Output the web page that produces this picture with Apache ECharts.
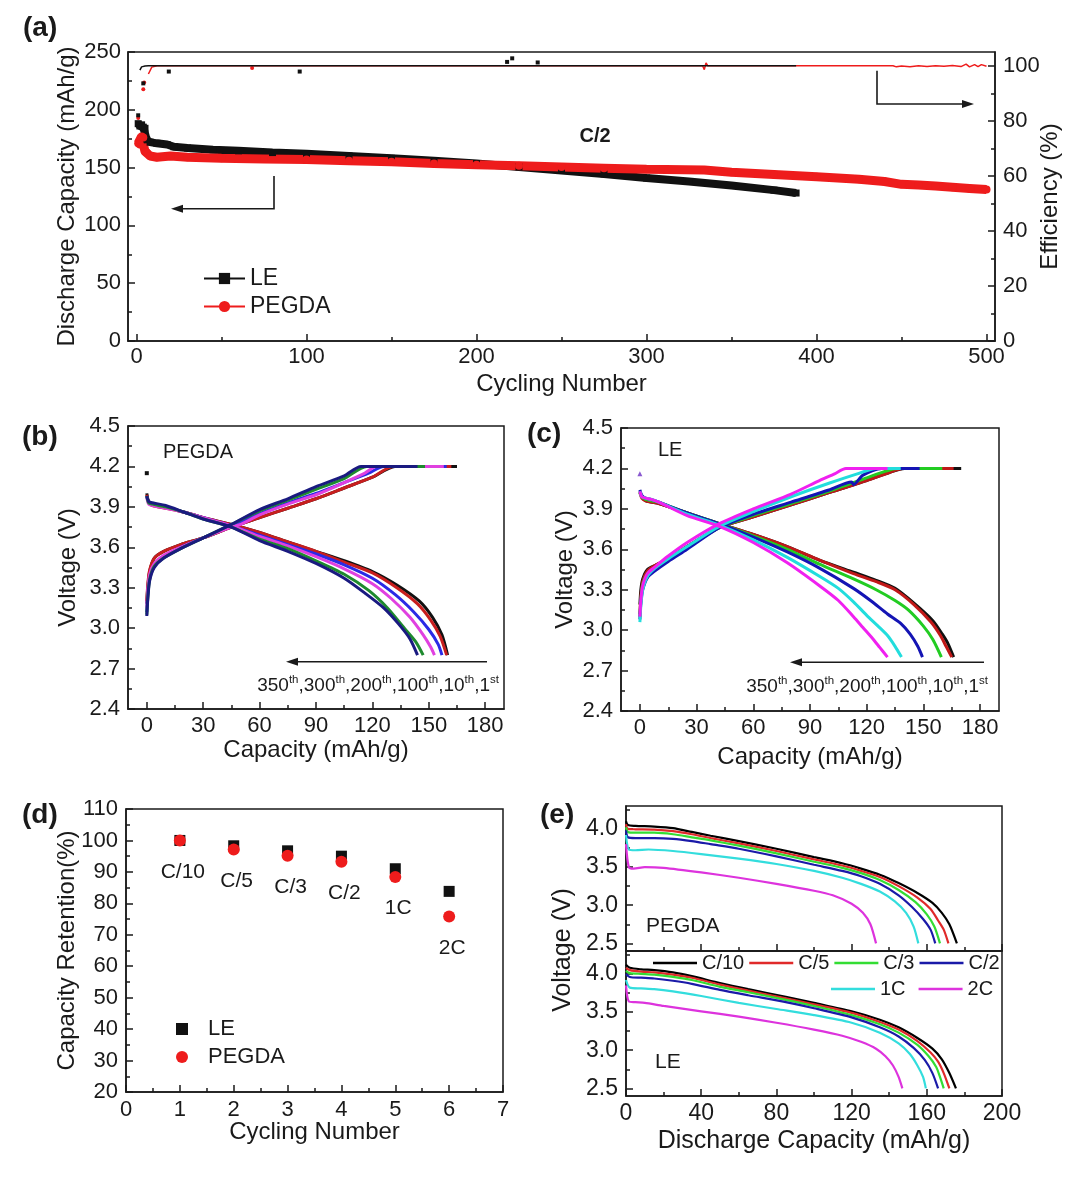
<!DOCTYPE html>
<html><head><meta charset="utf-8">
<script src="https://cdn.jsdelivr.net/npm/echarts@6/dist/echarts.min.js"></script>
<style>html,body{margin:0;padding:0;background:#fff}#c{width:1080px;height:1188px}</style>
</head><body><div id="c"></div>
<script>
// ================= DATA =================
// ---- Panel (a): cycling at C/2 ----
const aCapLE = [[1,188],[2,186],[3,187],[4,185],[5,184],[6,174],[8,172],[12,171],[18,170],[22,168],[30,167],[45,165.5],[60,164.5],[80,163],[100,162],[125,160],[150,158],[175,156],[200,153.5],[225,150.5],[250,147.5],[275,144.5],[300,141],[325,138],[350,134.5],[375,130.5],[388,128]];
const aCapPEGDA = [[1,171],[2,170],[3,177],[4,176],[5,164],[6,163],[8,160],[12,159],[20,160],[30,159],[50,158],[75,157.5],[100,157],[125,156],[150,155],[175,153.5],[200,152.5],[225,151.5],[250,150.5],[275,149.5],[300,148.5],[334,148],[350,146],[375,144],[400,142],[425,140],[440,138],[450,135.5],[460,135],[470,134],[480,133],[490,132],[495,131.5],[500,131]];
const aEffLE = [[2,98.4],[3,99.6],[5,99.9],[7,100],[30,100],[60,100],[90,100],[130,100],[170,100],[210,100],[250,100],[290,100],[330,100],[370,100],[388,100]];
const aEffLEOut = [[1,82],[4,93.6],[19,97.9],[96,97.9],[218,101.4],[221,102.7],[236,101.2]];
const aEffPEGDA = [[7,97],[9,99.5],[12,100],[100,100],[200,100],[300,100],[333,100],[334,98.6],[335,101],[336,100],[400,100],[445,100],[447,99.6],[450,99.9],[455,99.6],[460,100],[465,99.7],[470,100],[475,99.8],[480,100.1],[485,99.7],[488,100.6],[490,99.6],[493,100.4],[495,99.7],[497,100.4],[500,99.8]];
const aEffPEGDAOut = [[1,81],[4,91.5],[4.5,93.9],[68,99.2]];
const aXTicks = [0,100,200,300,400,500], aXMinor = [50,150,250,350,450];
const aYTicks = [0,50,100,150,200,250], aYMinor = [25,75,125,175,225];
const aY2Ticks = [0,20,40,60,80,100], aY2Minor = [10,30,50,70,90];

// ---- Panel (b): PEGDA charge/discharge ----
const bCycles = ['1st','10th','100th','200th','300th','350th'];
const bCharge1st   = [[0,3.18],[0.5,3.3],[1.5,3.42],[4,3.52],[9,3.57],[18,3.62],[30,3.67],[45,3.75],[60,3.82],[75,3.89],[90,3.96],[105,4.04],[120,4.12],[132,4.2],[165,4.2]];
const bCharge10th  = [[0,3.2],[0.5,3.32],[1.5,3.43],[4,3.52],[9,3.57],[18,3.62],[30,3.67],[45,3.75],[60,3.82],[75,3.89],[90,3.96],[105,4.04],[120,4.12],[131,4.2],[162,4.2]];
const bCharge100th = [[0,3.12],[0.5,3.25],[1.5,3.38],[4,3.47],[9,3.53],[18,3.6],[30,3.67],[45,3.76],[60,3.85],[75,3.93],[90,4.0],[105,4.08],[118,4.15],[126,4.2],[159.5,4.2]];
const bCharge200th = [[0,3.15],[0.5,3.28],[1.5,3.4],[4,3.48],[9,3.54],[18,3.6],[30,3.67],[45,3.75],[50,3.77],[60,3.84],[75,3.92],[90,3.99],[105,4.08],[116,4.15],[122,4.2],[158,4.2]];
const bCharge300th = [[0,3.1],[0.5,3.22],[1.5,3.36],[4,3.46],[9,3.52],[18,3.59],[30,3.67],[45,3.77],[60,3.87],[75,3.95],[90,4.03],[105,4.11],[117,4.2],[148,4.2]];
const bCharge350th = [[0,3.09],[0.5,3.21],[1.5,3.35],[4,3.45],[9,3.52],[18,3.59],[30,3.67],[45,3.77],[60,3.88],[75,3.96],[90,4.05],[105,4.13],[114,4.2],[144,4.2]];
const bDis1st   = [[0,4.0],[1,3.94],[3,3.92],[10,3.9],[20,3.86],[30,3.82],[45,3.77],[60,3.71],[75,3.64],[90,3.57],[105,3.5],[120,3.42],[133,3.32],[145,3.2],[152,3.08],[157,2.95],[160,2.8]];
const bDis10th  = [[0,3.99],[1,3.93],[3,3.91],[10,3.89],[20,3.86],[30,3.82],[45,3.77],[60,3.71],[75,3.64],[90,3.57],[105,3.49],[120,3.41],[133,3.3],[144,3.18],[151,3.06],[156,2.94],[159.5,2.8]];
const bDis100th = [[0,3.98],[1,3.93],[3,3.92],[10,3.9],[20,3.86],[30,3.82],[45,3.76],[60,3.69],[75,3.62],[90,3.55],[105,3.47],[120,3.37],[132,3.25],[142,3.12],[150,2.99],[155,2.88],[157,2.8]];
const bDis200th = [[0,3.97],[1,3.92],[3,3.91],[10,3.89],[20,3.86],[30,3.82],[45,3.76],[60,3.68],[75,3.61],[90,3.53],[105,3.44],[120,3.33],[130,3.22],[140,3.08],[147,2.95],[151,2.86],[153,2.8]];
const bDis300th = [[0,3.98],[1,3.93],[3,3.92],[10,3.9],[20,3.86],[30,3.81],[45,3.75],[60,3.66],[75,3.59],[90,3.5],[105,3.4],[118,3.28],[128,3.15],[137,3.0],[143,2.9],[147,2.8]];
const bDis350th = [[0,3.98],[1,3.94],[3,3.93],[10,3.91],[20,3.86],[30,3.81],[45,3.75],[60,3.65],[75,3.57],[90,3.48],[105,3.37],[116,3.26],[126,3.15],[134,3.03],[140,2.92],[144,2.8]];
const bFirstPt = [[0,4.15]];

// ---- Panel (c): LE charge/discharge ----
const cCharge1st   = [[0,3.19],[0.5,3.3],[1.5,3.38],[4,3.45],[8,3.48],[15,3.53],[25,3.62],[42,3.76],[60,3.84],[80,3.93],[100,4.02],[120,4.11],[132,4.17],[140,4.2],[170,4.2]];
const cCharge10th  = [[0,3.12],[0.5,3.25],[1.5,3.36],[4,3.44],[8,3.48],[15,3.53],[25,3.62],[42,3.76],[60,3.84],[80,3.93],[100,4.02],[120,4.11],[132,4.17],[139,4.2],[166,4.2]];
const cCharge100th = [[0,3.1],[0.5,3.22],[1.5,3.34],[4,3.42],[8,3.46],[15,3.52],[25,3.61],[42,3.76],[60,3.85],[80,3.94],[100,4.03],[120,4.13],[130,4.18],[136,4.2],[160,4.2]];
const cCharge200th = [[0,3.08],[0.5,3.2],[1.5,3.3],[4,3.39],[8,3.44],[15,3.51],[25,3.6],[42,3.76],[60,3.86],[80,3.95],[100,4.04],[112,4.1],[113,4.08],[118,4.15],[128,4.2],[148,4.2]];
const cCharge300th = [[0,3.06],[0.5,3.18],[1.5,3.3],[4,3.4],[8,3.46],[15,3.53],[25,3.62],[42,3.77],[60,3.88],[80,3.99],[100,4.09],[115,4.16],[125,4.2],[138,4.2]];
const cCharge350th = [[0,3.1],[0.5,3.22],[1.5,3.33],[4,3.42],[8,3.47],[15,3.55],[25,3.65],[42,3.79],[60,3.9],[80,4.01],[95,4.11],[103,4.16],[109,4.2],[131,4.2]];
const cDis1st   = [[0,4.03],[1,3.99],[3,3.96],[6,3.95],[10,3.94],[25,3.87],[42,3.79],[60,3.71],[78,3.62],[95,3.52],[113,3.43],[125,3.37],[135,3.31],[145,3.2],[155,3.07],[160,2.97],[163,2.9],[166,2.8]];
const cDis10th  = [[0,4.02],[1,3.98],[3,3.96],[6,3.95],[10,3.94],[25,3.87],[42,3.79],[60,3.71],[78,3.62],[95,3.52],[113,3.42],[125,3.36],[135,3.3],[145,3.19],[154,3.06],[159,2.96],[162,2.88],[165,2.8]];
const cDis100th = [[0,4.02],[1,3.99],[3,3.97],[6,3.96],[10,3.95],[25,3.87],[42,3.79],[60,3.7],[78,3.6],[95,3.49],[113,3.38],[125,3.3],[135,3.22],[142,3.15],[150,3.03],[155,2.93],[159.5,2.8]];
const cDis200th = [[0,4.04],[1,4.0],[3,3.98],[6,3.97],[10,3.95],[25,3.87],[42,3.79],[60,3.69],[78,3.58],[95,3.46],[113,3.31],[122,3.22],[131,3.12],[138,3.05],[143,2.97],[147,2.88],[149.5,2.8]];
const cDis300th = [[0,4.03],[1,3.99],[3,3.98],[6,3.97],[10,3.95],[25,3.86],[42,3.78],[60,3.67],[78,3.54],[95,3.4],[105,3.31],[113,3.21],[120,3.11],[126,3.03],[131,2.96],[135,2.88],[138.4,2.8]];
const cDis350th = [[0,4.03],[1,3.99],[3,3.98],[6,3.97],[10,3.95],[25,3.85],[42,3.77],[60,3.65],[78,3.5],[95,3.33],[105,3.22],[113,3.1],[118,3.02],[123,2.94],[127,2.87],[131,2.8]];
const cFirstPt = [[0,4.16]];
const bcXTicks = [0,30,60,90,120,150,180], bcXMinor = [15,45,75,105,135,165];
const bcYTicks = [2.4,2.7,3.0,3.3,3.6,3.9,4.2,4.5], bcYMinor = [2.55,2.85,3.15,3.45,3.75,4.05,4.35];

// ---- Panel (d): rate capability ----
const dCycle = [1,2,3,4,5,6];
const dLE = [100,98.3,96.7,95,91,83.8];
const dPEGDA = [100,97.1,95.1,93.2,88.4,75.8];
const dRates = ['C/10','C/5','C/3','C/2','1C','2C'];
const dXTicks = [0,1,2,3,4,5,6,7], dXMinor = [0.5,1.5,2.5,3.5,4.5,5.5,6.5];
const dYTicks = [20,30,40,50,60,70,80,90,100,110], dYMinor = [25,35,45,55,65,75,85,95,105];

// ---- Panel (e): discharge curves at different rates ----
const eRates = ['C/10','C/5','C/3','C/2','1C','2C'];
const ePEGDA_C10 = [[0,4.1],[1,4.05],[5,4.04],[15,4.03],[25,4.01],[35,3.96],[45,3.91],[60,3.84],[80,3.74],[100,3.63],[115,3.55],[125,3.48],[135,3.4],[145,3.29],[155,3.16],[163,3.03],[168,2.9],[172,2.75],[176,2.5]];
const ePEGDA_C5  = [[0,4.06],[1,4.0],[5,3.995],[15,3.99],[25,3.97],[35,3.93],[45,3.88],[60,3.81],[80,3.71],[100,3.6],[115,3.52],[125,3.45],[135,3.37],[145,3.25],[155,3.1],[162,2.95],[166,2.8],[169,2.68],[171.5,2.5]];
const ePEGDA_C3  = [[0,4.02],[1,3.96],[5,3.95],[15,3.95],[25,3.93],[35,3.89],[45,3.85],[60,3.78],[80,3.68],[100,3.57],[115,3.49],[125,3.42],[135,3.33],[145,3.2],[154,3.04],[160,2.88],[164,2.72],[167,2.5]];
const ePEGDA_C2  = [[0,3.98],[1,3.89],[5,3.88],[15,3.88],[25,3.87],[35,3.84],[45,3.8],[60,3.74],[80,3.64],[100,3.53],[115,3.45],[125,3.38],[135,3.28],[145,3.13],[152,2.98],[158,2.82],[162,2.68],[164.5,2.5]];
const ePEGDA_1C  = [[0,3.92],[1.5,3.73],[5,3.72],[12,3.73],[25,3.71],[40,3.67],[60,3.61],[80,3.54],[100,3.45],[115,3.36],[125,3.28],[135,3.18],[143,3.05],[149,2.9],[153,2.72],[155.5,2.5]];
const ePEGDA_2C  = [[0,3.8],[1.5,3.5],[4,3.48],[10,3.5],[20,3.49],[40,3.43],[60,3.36],[80,3.28],[100,3.19],[110,3.13],[120,3.02],[126,2.9],[130,2.75],[133,2.5]];
const eLE_C10 = [[0,4.12],[2,4.08],[8,4.06],[15,4.05],[25,4.02],[35,3.97],[50,3.88],[65,3.8],[85,3.7],[100,3.62],[120,3.51],[135,3.4],[145,3.3],[155,3.16],[163,3.02],[168,2.88],[172,2.7],[175.5,2.5]];
const eLE_C5  = [[0,4.08],[2,4.05],[8,4.03],[15,4.02],[25,3.99],[35,3.95],[50,3.86],[65,3.78],[85,3.68],[100,3.6],[120,3.49],[135,3.37],[145,3.27],[155,3.12],[162,2.97],[166,2.85],[169,2.7],[172,2.5]];
const eLE_C3  = [[0,4.04],[2,4.01],[8,4.0],[15,3.99],[25,3.96],[35,3.92],[50,3.83],[65,3.76],[85,3.66],[100,3.58],[120,3.46],[135,3.34],[145,3.23],[155,3.07],[161,2.92],[165,2.78],[167,2.65],[169,2.5]];
const eLE_C2  = [[0,4.0],[2,3.96],[8,3.95],[15,3.94],[25,3.91],[35,3.87],[50,3.79],[65,3.72],[85,3.63],[100,3.55],[120,3.43],[135,3.3],[145,3.18],[153,3.03],[159,2.87],[163,2.7],[166,2.5]];
const eLE_1C  = [[0,3.92],[2,3.82],[8,3.81],[15,3.8],[25,3.77],[40,3.71],[60,3.62],[80,3.54],[100,3.46],[120,3.36],[135,3.23],[145,3.09],[151,2.95],[155,2.8],[158,2.65],[159.5,2.5]];
const eLE_2C  = [[0,3.85],[1.5,3.64],[5,3.63],[10,3.62],[20,3.58],[40,3.51],[60,3.44],[80,3.36],[100,3.27],[115,3.19],[125,3.11],[133,3.02],[138,2.92],[142,2.8],[145,2.65],[147,2.5]];
const eXTicks = [0,40,80,120,160,200], eXMinor = [20,60,100,140,180];
const eYTicks = [2.5,3.0,3.5,4.0], eYMinor = [2.75,3.25,3.75,4.25];

// ================= STYLE / BUILD =================
const F = "'Liberation Sans', Arial, sans-serif";
const AX = '#1a1a1a';
const xAxis = [], yAxis = [];
function mkAxis(list, grid, pos, min, max, major, minor, o) {
  o = o || {};
  const base = {type:'value', gridIndex:grid, position:pos, min:min, max:max, splitLine:{show:false}};
  const main = Object.assign({}, base, {
    axisLine:{show:true,onZero:false,lineStyle:{color:AX,width:1.5}},
    axisTick:{show:true,inside:true,length:7,customValues:major,lineStyle:{color:AX,width:1.5}},
    axisLabel:{show:o.labels!==false,customValues:major,fontSize:o.fs||22,color:AX,fontFamily:F,margin:o.margin||6},
    name:o.name||'', nameLocation:'middle', nameGap:o.gap||30, nameMoveOverlap:false,
    nameTextStyle:{fontSize:o.nfs||24,color:AX,fontFamily:F}
  });
  if (o.fmt) main.axisLabel.formatter = o.fmt;
  if (o.rot !== undefined) main.nameRotate = o.rot;
  list.push(main);
  const idx = list.length - 1;
  list.push(Object.assign({}, base, {
    axisLine:{show:false,onZero:false}, axisLabel:{show:false},
    axisTick:{show:true,inside:true,length:4,customValues:minor,lineStyle:{color:AX,width:1.5}}
  }));
  return idx;
}
const f1 = v => v.toFixed(1);
const gridStyle = {show:true, borderColor:AX, borderWidth:1.5, backgroundColor:'transparent'};
const grid = [
  Object.assign({left:128, top:52, width:867, height:289}, gridStyle),   // a
  Object.assign({left:128, top:426, width:376, height:283}, gridStyle),  // b
  Object.assign({left:621, top:428, width:378, height:283}, gridStyle),  // c
  Object.assign({left:126, top:809, width:377, height:283}, gridStyle),  // d
  Object.assign({left:626, top:806, width:376, height:145}, gridStyle),  // e1
  Object.assign({left:626, top:951, width:376, height:145}, gridStyle)   // e2
];
// axes
const axA = mkAxis(xAxis,0,'bottom',-5,505,aXTicks,aXMinor,{name:'Cycling Number',gap:31,margin:5});
const ayA = mkAxis(yAxis,0,'left',0,250,aYTicks,aYMinor,{name:'Discharge Capacity (mAh/g)',gap:49,margin:7});
const ayA2 = mkAxis(yAxis,0,'right',0,105,aY2Ticks,aY2Minor,{name:'Efficiency (%)',gap:43,margin:8,rot:90});
const axB = mkAxis(xAxis,1,'bottom',-10,190,bcXTicks,bcXMinor,{name:'Capacity (mAh/g)',gap:29,margin:6});
const ayB = mkAxis(yAxis,1,'left',2.4,4.5,bcYTicks,bcYMinor,{name:'Voltage (V)',gap:48,margin:8,fmt:f1});
const axC = mkAxis(xAxis,2,'bottom',-10,190,bcXTicks,bcXMinor,{name:'Capacity (mAh/g)',gap:34,margin:6});
const ayC = mkAxis(yAxis,2,'left',2.4,4.5,bcYTicks,bcYMinor,{name:'Voltage (V)',gap:44,margin:8,fmt:f1});
const axD = mkAxis(xAxis,3,'bottom',0,7,dXTicks,dXMinor,{name:'Cycling Number',gap:28,margin:7});
const ayD = mkAxis(yAxis,3,'left',20,110,dYTicks,dYMinor,{name:'Capacity Retention(%)',gap:47,margin:8});
const axE1 = mkAxis(xAxis,4,'bottom',0,200,eXTicks,eXMinor,{labels:false});
const ayE1 = mkAxis(yAxis,4,'left',2.4,4.3,eYTicks,eYMinor,{fs:23,margin:8,fmt:f1});
const axE2 = mkAxis(xAxis,5,'bottom',0,200,eXTicks,eXMinor,{name:'Discharge Capacity (mAh/g)',gap:33,margin:6,fs:23,nfs:25});
const ayE2 = mkAxis(yAxis,5,'left',2.4,4.3,eYTicks,eYMinor,{fs:23,margin:8,fmt:f1});

function line(name, data, color, xi, yi, w, extra) {
  return Object.assign({type:'line', name:name, data:data, xAxisIndex:xi, yAxisIndex:yi,
    symbol:'none', showSymbol:false, smooth:0.25, animation:false,
    lineStyle:{color:color,width:w}, itemStyle:{color:color}, emphasis:{disabled:true}}, extra||{});
}
function scat(name, data, color, xi, yi, sym, size, extra) {
  return Object.assign({type:'scatter', name:name, data:data, xAxisIndex:xi, yAxisIndex:yi,
    symbol:sym, symbolSize:size, itemStyle:{color:color, opacity:1}, animation:false, emphasis:{disabled:true}}, extra||{});
}
const BLK = '#111111', RED = '#ee1c1c';
const series = [];
// (a)
series.push(line('LE', aCapLE, BLK, axA, ayA, 8, {symbol:'rect', symbolSize:7, showSymbol:true, smooth:false}));
series.push(line('PEGDA', aCapPEGDA, RED, axA, ayA, 9, {symbol:'circle', symbolSize:8, showSymbol:true, smooth:false}));
series.push(line('PEGDA eff', aEffPEGDA, RED, axA, ayA2, 1.5, {smooth:false}));
series.push(scat('PEGDA eff out', aEffPEGDAOut, RED, axA, ayA2, 'circle', 4));
series.push(line('LE eff', aEffLE, BLK, axA, ayA2, 1.5, {smooth:false}));
series.push(scat('LE eff out', aEffLEOut, BLK, axA, ayA2, 'rect', 4));
// (b)
const bColors = ['#111111','#c81e1e','#2a2ae6','#e040e0','#1e8a2e','#1a1a80'];
const bCh = [bCharge1st,bCharge10th,bCharge100th,bCharge200th,bCharge300th,bCharge350th];
const bDi = [bDis1st,bDis10th,bDis100th,bDis200th,bDis300th,bDis350th];
bCycles.forEach((c,i)=>{
  series.push(line('PEGDA '+c+' ch', bCh[i], bColors[i], axB, ayB, 3));
  series.push(line('PEGDA '+c+' dis', bDi[i], bColors[i], axB, ayB, 3));
});
series.push(scat('b first', bFirstPt, BLK, axB, ayB, 'rect', 4));
// (c)
const cColors = ['#111111','#c01818','#22cc22','#1414b4','#22dddd','#f020f0'];
const cCh = [cCharge1st,cCharge10th,cCharge100th,cCharge200th,cCharge300th,cCharge350th];
const cDi = [cDis1st,cDis10th,cDis100th,cDis200th,cDis300th,cDis350th];
bCycles.forEach((c,i)=>{
  series.push(line('LE '+c+' ch', cCh[i], cColors[i], axC, ayC, 3));
  series.push(line('LE '+c+' dis', cDi[i], cColors[i], axC, ayC, 3));
});
series.push(scat('c first', cFirstPt, '#8a5ad0', axC, ayC, 'triangle', 5));
// (d)
series.push(scat('LE ', dCycle.map((c,i)=>[c,dLE[i]]), BLK, axD, ayD, 'rect', 11));
series.push(scat('PEGDA ', dCycle.map((c,i)=>[c,dPEGDA[i]]), RED, axD, ayD, 'circle', 12, {
  label:{show:true, position:'bottom', distance:15, offset:[3,0], fontSize:21, color:AX, fontFamily:F,
    formatter: p => dRates[p.dataIndex]}
}));
// (e)
const eColors = ['#000000','#e02a2a','#33dd33','#1a1aa8','#33dddd','#dd33dd'];
const ePE = [ePEGDA_C10,ePEGDA_C5,ePEGDA_C3,ePEGDA_C2,ePEGDA_1C,ePEGDA_2C];
const eLE = [eLE_C10,eLE_C5,eLE_C3,eLE_C2,eLE_1C,eLE_2C];
eRates.forEach((r,i)=>{
  series.push(line(r, ePE[i], eColors[i], axE1, ayE1, 2.2));
});
eRates.forEach((r,i)=>{
  series.push(line(r, eLE[i], eColors[i], axE2, ayE2, 2.2));
});

const legTxt = (fs) => ({fontSize:fs, color:AX, fontFamily:F});
const SQ = 'path://M0,0L10,0L10,10L0,10Z';
const legend = [
  {data:['LE','PEGDA'], orient:'vertical', left:203, top:267, padding:0, itemWidth:41, itemHeight:14, itemGap:5,
   selectedMode:false, textStyle:legTxt(23), lineStyle:{width:2}},
  {data:[{name:'LE ', icon:SQ},{name:'PEGDA ', icon:'circle'}], orient:'vertical', left:176, top:1018, padding:0, itemWidth:42, itemHeight:12, itemGap:6,
   selectedMode:false, textStyle:legTxt(22)},
  {data:['C/10','C/5','C/3','C/2'].map(n=>({name:n, icon:'rect'})), orient:'horizontal', left:653, top:953, padding:0, itemWidth:44, itemHeight:2.5, itemGap:5,
   selectedMode:false, textStyle:legTxt(20)},
  {data:['1C','2C'].map(n=>({name:n, icon:'rect'})), orient:'horizontal', left:831, top:979, padding:0, itemWidth:44, itemHeight:2.5, itemGap:13,
   selectedMode:false, textStyle:legTxt(20)}
];

// annotations
function txt(t, x, y, fs, opt) {
  return {type:'text', z:100, style:Object.assign({text:t, x:x, y:y, fill:AX, font:(opt&&opt.bold?'bold ':'')+fs+'px '+F,
    align:(opt&&opt.align)||'left', verticalAlign:'middle'}, (opt&&opt.style)||{}), rotation:(opt&&opt.rot)||0};
}
function arrow(points, head) {
  return [
    {type:'polyline', z:100, shape:{points:points}, style:{stroke:AX, lineWidth:1.6, fill:null}},
    {type:'polygon', z:100, shape:{points:head}, style:{fill:AX}}
  ];
}
const cycleRich = {
  n:{fontSize:19, fontFamily:F, fill:AX, color:AX, lineHeight:24},
  s:{fontSize:11.5, fontFamily:F, fill:AX, color:AX, verticalAlign:'top', lineHeight:13}
};
const cycleText = '{n|350}{s|th}{n|,300}{s|th}{n|,200}{s|th}{n|,100}{s|th}{n|,10}{s|th}{n|,1}{s|st}';
const graphic = [
  txt('(a)', 23, 28, 28, {bold:true}),
  txt('(b)', 22, 437, 28, {bold:true}),
  txt('(c)', 527, 434, 28, {bold:true}),
  txt('(d)', 22, 815, 28, {bold:true}),
  txt('(e)', 540, 815, 28, {bold:true}),
  txt('C/2', 595, 136, 20, {bold:true, align:'center'}),
  txt('PEGDA', 163, 452, 20),
  txt('LE', 658, 450, 20),
  txt('PEGDA', 646, 926, 21),
  txt('LE', 655, 1062, 21),
  {type:'text', z:100, x:563, y:950, rotation:Math.PI/2,
   style:{text:'Voltage (V)', x:0, y:0, fill:AX, font:'25px '+F, align:'center', verticalAlign:'middle'}},
  {type:'text', z:100, style:{text:cycleText, rich:cycleRich, x:499, y:686, align:'right', verticalAlign:'middle', fill:AX, font:'19px '+F}},
  {type:'text', z:100, style:{text:cycleText, rich:cycleRich, x:988, y:687, align:'right', verticalAlign:'middle', fill:AX, font:'19px '+F}}
].concat(
  arrow([[274,176],[274,208.7],[180,208.7]], [[171,208.7],[183,204.7],[183,212.7]]),
  arrow([[877,70.7],[877,104],[964,104]], [[974,104],[962,100],[962,108]]),
  arrow([[487,661.7],[296,661.7]], [[286,661.7],[298,657.7],[298,665.7]]),
  arrow([[984,662.3],[800,662.3]], [[790,662.3],[802,658.3],[802,666.3]])
);

const chart = echarts.init(document.getElementById('c'), null, {renderer:'canvas'});
chart.setOption({
  backgroundColor:'#ffffff', animation:false,
  grid:grid, xAxis:xAxis, yAxis:yAxis, series:series, legend:legend, graphic:graphic
});
</script></body></html>
